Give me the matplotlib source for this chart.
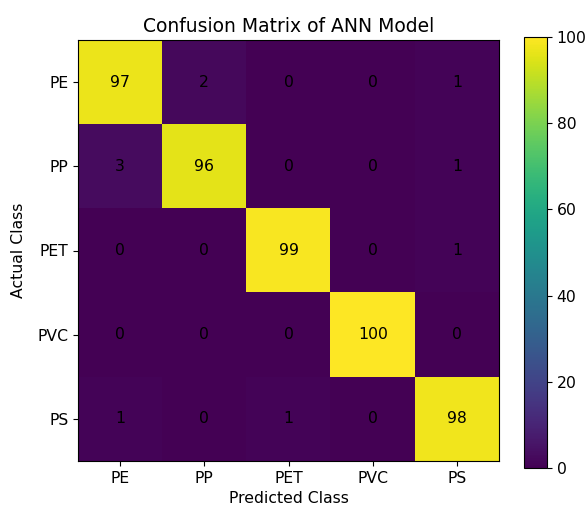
import numpy as np
import matplotlib
matplotlib.use("Agg")
import matplotlib.pyplot as plt

classes = ["PE", "PP", "PET", "PVC", "PS"]
cm_pe = [97, 2, 0, 0, 1]
cm_pp = [3, 96, 0, 0, 1]
cm_pet = [0, 0, 99, 0, 1]
cm_pvc = [0, 0, 0, 100, 0]
cm_ps = [1, 0, 1, 0, 98]

cm = np.array([cm_pe, cm_pp, cm_pet, cm_pvc, cm_ps])

plt.rcParams['font.size'] = 11.25

fig = plt.figure(figsize=(5.87, 5.08), dpi=100)
# axes and colorbar placed by hand to match the reference
ax = fig.add_axes([78/587, 1-461/508, 421/587, 421/508])
cax = fig.add_axes([524/587, 1-468/508, 23/587, 431/508])

im = ax.imshow(cm, cmap="viridis", aspect="auto", vmin=0, vmax=100)
fig.colorbar(im, cax=cax)

for i in range(len(classes)):
    for j in range(len(classes)):
        ax.text(j, i, str(cm[i, j]), ha="center", va="center", color="black")

ax.set_xticks(range(len(classes)))
ax.set_xticklabels(classes)
ax.set_yticks(range(len(classes)))
ax.set_yticklabels(classes)
ax.set_xlabel("Predicted Class", labelpad=4)
ax.set_ylabel("Actual Class", labelpad=8)
ax.set_title("Confusion Matrix of ANN Model", fontsize=13.5)

plt.savefig("out.png", dpi=100)
